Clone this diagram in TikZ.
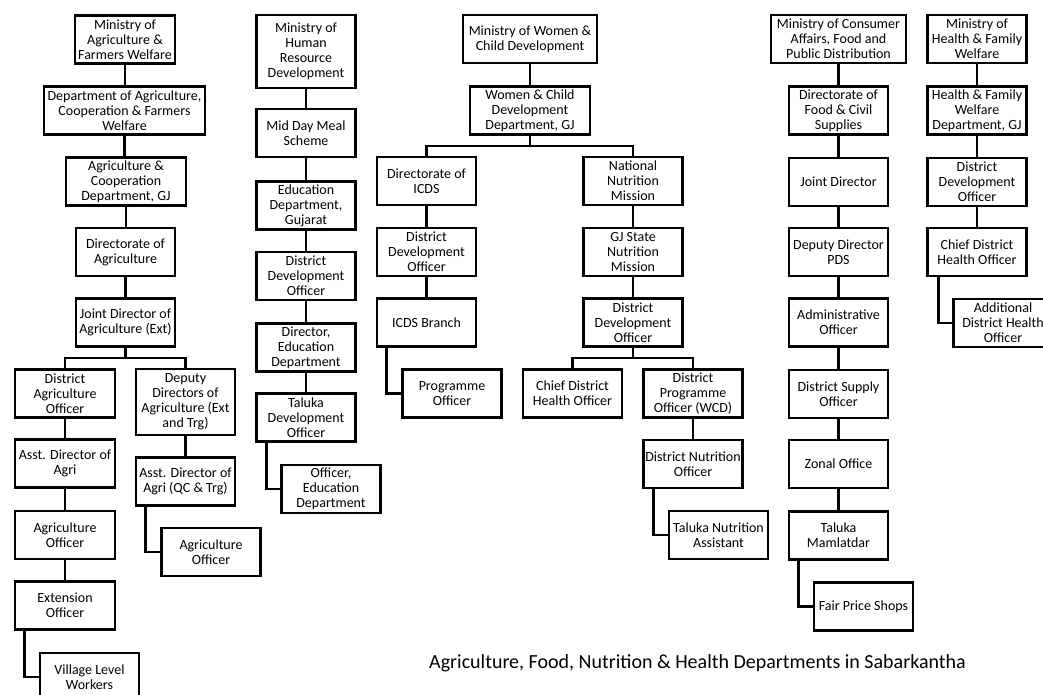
\documentclass[tikz,border=0pt]{standalone}
\usepackage{fontspec}
\setmainfont{Carlito}
\begin{document}
\begin{tikzpicture}[x=1pt,y=-1pt,
  box/.style={draw, line width=2.6pt, align=center, inner sep=0pt,
    font=\fontsize{14}{15}\selectfont, minimum width=99pt, minimum height=48pt},
  conn/.style={line width=2.6pt},
  caption/.style={font=\fontsize{20}{24}\selectfont, inner sep=0pt}]
\path[use as bounding box] (0,0) rectangle (1043,694);
\clip (0,0) rectangle (1043,694);
% ---------- Column 1: Agriculture ----------
\node[box, minimum width=100pt] (a1) at (125,39.5) {Ministry of\\Agriculture \&\\Farmers Welfare};
\node[box, minimum width=161pt] (a2) at (124.5,110.5) {Department of Agriculture,\\Cooperation \& Farmers\\Welfare};
\node[box, minimum width=120pt] (a3) at (126,181.5) {Agriculture \&\\Cooperation\\Department, GJ};
\node[box] (a4) at (125.5,252) {Directorate of\\Agriculture};
\node[box] (a5) at (125.5,322.5) {Joint Director of\\Agriculture (Ext)};
\node[box, minimum width=100pt] (a6) at (65,393.5) {District\\Agriculture\\Officer};
\node[box, minimum height=66pt] (a7) at (185.5,402) {Deputy\\Directors of\\Agriculture (Ext\\and Trg)};
\node[box, minimum width=100pt] (a8) at (65,463.5) {Asst. Director of\\Agri};
\node[box] (a9) at (185.5,481.5) {Asst. Director of\\Agri (QC \& Trg)};
\node[box, minimum width=100pt] (a10) at (65,535) {Agriculture\\Officer};
\node[box] (a11) at (211,552) {Agriculture\\Officer};
\node[box, minimum width=100pt] (a12) at (65,605.5) {Extension\\Officer};
\node[box] (a13) at (89.5,677) {Village Level\\Workers};
% ---------- Column 2: HRD ----------
\node[box, minimum height=73pt] (b1) at (306,51.5) {Ministry of\\Human\\Resource\\Development};
\node[box] (b2) at (306,133) {Mid Day Meal\\Scheme};
\node[box] (b3) at (306,205.5) {Education\\Department,\\Gujarat};
\node[box] (b4) at (306,276) {District\\Development\\Officer};
\node[box] (b5) at (306,347.5) {Director,\\Education\\Department};
\node[box] (b6) at (306,417.5) {Taluka\\Development\\Officer};
\node[box] (b7) at (331,489) {Officer,\\Education\\Department};
% ---------- Column 3: WCD ----------
\node[box, minimum width=134pt] (c1) at (530,39) {Ministry of Women \&\\Child Development};
\node[box, minimum width=120pt] (c2) at (530,110.5) {Women \& Child\\Development\\Department, GJ};
\node[box] (c3) at (426.5,181) {Directorate of\\ICDS};
\node[box] (c4) at (633,181) {National\\Nutrition\\Mission};
\node[box] (c5) at (426.5,252) {District\\Development\\Officer};
\node[box] (c6) at (633,252) {GJ State\\Nutrition\\Mission};
\node[box] (c7) at (426.5,322.5) {ICDS Branch};
\node[box] (c8) at (633,322.5) {District\\Development\\Officer};
\node[box] (c9) at (452,393.5) {Programme\\Officer};
\node[box] (c10) at (572.5,393.5) {Chief District\\Health Officer};
\node[box] (c11) at (693,393.5) {District\\Programme\\Officer (WCD)};
\node[box] (c12) at (693,464) {District Nutrition\\Officer};
\node[box] (c13) at (718.5,535) {Taluka Nutrition\\Assistant};
% ---------- Column 4: Consumer Affairs ----------
\node[box, minimum width=135pt] (d1) at (838.5,39) {Ministry of Consumer\\Affairs, Food and\\Public Distribution};
\node[box] (d2) at (838.5,110.5) {Directorate of\\Food \& Civil\\Supplies};
\node[box] (d3) at (838.5,182) {Joint Director};
\node[box] (d4) at (838.5,252) {Deputy Director\\PDS};
\node[box] (d5) at (838.5,322.5) {Administrative\\Officer};
\node[box] (d6) at (838.5,394) {District Supply\\Officer};
\node[box] (d7) at (838.5,464) {Zonal Office};
\node[box] (d8) at (838.5,535.5) {Taluka\\Mamlatdar};
\node[box] (d9) at (863.5,606.5) {Fair Price Shops};
% ---------- Column 5: Health ----------
\node[box] (e1) at (977,39) {Ministry of\\Health \& Family\\Welfare};
\node[box] (e2) at (977,110.5) {Health \& Family\\Welfare\\Department, GJ};
\node[box] (e3) at (977,182) {District\\Development\\Officer};
\node[box] (e4) at (977,252) {Chief District\\Health Officer};
\node[box] (e5) at (1003,323) {Additional\\District Health\\Officer};
% ---------- Caption ----------
\node[caption] (cap) at (697.5,663) {Agriculture, Food, Nutrition \& Health Departments in Sabarkantha};
% ---------- Connectors ----------
\foreach \p/\c in {a1/a2,a2/a3,a3/a4,a4/a5,a6/a8,a8/a10,a10/a12,a7/a9,
                   b1/b2,b2/b3,b3/b4,b4/b5,b5/b6,
                   c1/c2,c3/c5,c5/c7,c4/c6,c6/c8,c11/c12,
                   d1/d2,d2/d3,d3/d4,d4/d5,d5/d6,d6/d7,d7/d8,
                   e1/e2,e2/e3,e3/e4}
  \draw[conn] (\p.south) -- (\p.south |- \c.north);
% branches
\coordinate (ja) at (125.5,358);
\draw[conn] (a5.south) -- (ja) -| (a6.north);
\draw[conn] (ja) -| (a7.north);
\coordinate (jc) at (530,146);
\draw[conn] (c2.south) -- (jc) -| (c3.north);
\draw[conn] (jc) -| (c4.north);
\coordinate (jd) at (633,358);
\draw[conn] (c8.south) -- (jd) -| (c10.north);
\draw[conn] (jd) -| (c11.north);
% elbows
\draw[conn] ([xshift=11pt]a12.south west) |- (a13.west);
\draw[conn] ([xshift=11pt]a9.south west) |- (a11.west);
\draw[conn] ([xshift=11pt]b6.south west) |- (b7.west);
\draw[conn] ([xshift=11pt]c7.south west) |- (c9.west);
\draw[conn] ([xshift=11pt]c12.south west) |- (c13.west);
\draw[conn] ([xshift=11pt]d8.south west) |- (d9.west);
\draw[conn] ([xshift=12pt]e4.south west) |- (e5.west);
\end{tikzpicture}
\end{document}
